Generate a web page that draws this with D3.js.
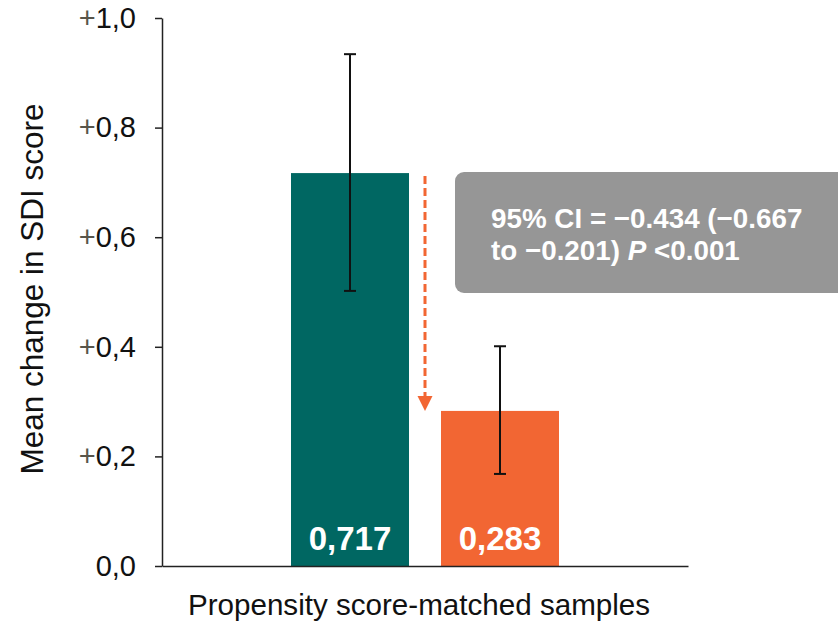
<!DOCTYPE html>
<html>
<head>
<meta charset="utf-8">
<script src="https://cdn.jsdelivr.net/npm/d3@7"></script>
<style>
  html, body { margin: 0; padding: 0; background: #fff; }
  svg { display: block; font-family: "Liberation Sans", Arial, sans-serif; }
</style>
</head>
<body>
<svg id="chart" width="838" height="622"></svg>
<script>
// Mean change in SDI score, propensity score-matched samples
const groups = ["Propensity score-matched samples"];
const series = ["Group A", "Group B"];
const means = [0.717, 0.283];
const ciLower = [0.502, 0.168];
const ciUpper = [0.934, 0.401];
const valueLabels = ["0,717", "0,283"];
const barColors = ["#006762", "#F26633"];
const yTicks = [0, 0.2, 0.4, 0.6, 0.8, 1.0];
const yTickLabels = ["0,0", "0,2", "0,4", "0,6", "0,8", "1,0"];
const yTitle = "Mean change in SDI score";
const annotationLines = [
  [{ t: "95% CI = \u22120.434 (\u22120.667", i: false }],
  [{ t: "to \u22120.201) ", i: false }, { t: "P", i: true }, { t: " <0.001", i: false }]
];

const svg = d3.select("#chart");
const plot = { left: 162, right: 688, top: 18, bottom: 566 };

const y = d3.scaleLinear().domain([0, 1]).range([plot.bottom, plot.top]);
const x0 = d3.scaleBand().domain(groups).range([plot.left, plot.right]);
const x1 = d3.scaleBand().domain(series).range([0, x0.bandwidth()])
  .paddingInner(0.2133).paddingOuter(0.86);

const barX = i => x0(groups[0]) + x1(series[i]);
const barMid = i => barX(i) + x1.bandwidth() / 2;

// Bars
svg.append("g").selectAll("rect")
  .data(means)
  .join("rect")
  .attr("x", (d, i) => barX(i))
  .attr("y", d => y(d))
  .attr("width", x1.bandwidth())
  .attr("height", d => y(0) - y(d))
  .attr("fill", (d, i) => barColors[i]);

// Value labels inside bars
svg.append("g").selectAll("text")
  .data(means)
  .join("text")
  .attr("x", (d, i) => barMid(i))
  .attr("y", y(0) - 16)
  .attr("text-anchor", "middle")
  .attr("fill", "#fff")
  .attr("font-weight", "bold")
  .attr("font-size", 33)
  .text((d, i) => valueLabels[i]);

// Error bars
const eb = svg.append("g").attr("stroke", "#111").attr("stroke-width", 2);
means.forEach((m, i) => {
  const cx = barMid(i);
  eb.append("line").attr("x1", cx).attr("x2", cx).attr("y1", y(ciLower[i])).attr("y2", y(ciUpper[i]));
  eb.append("line").attr("x1", cx - 6).attr("x2", cx + 6).attr("y1", y(ciLower[i])).attr("y2", y(ciLower[i]));
  eb.append("line").attr("x1", cx - 6).attr("x2", cx + 6).attr("y1", y(ciUpper[i])).attr("y2", y(ciUpper[i]));
});

// Dashed arrow showing the drop between the two means
const arrowX = (barX(0) + x1.bandwidth() + barX(1)) / 2;
const arrowColor = "#F26633";
const tipY = y(means[1]);
svg.append("line")
  .attr("x1", arrowX).attr("x2", arrowX)
  .attr("y1", y(means[0]) + 3).attr("y2", tipY - 14)
  .attr("stroke", arrowColor).attr("stroke-width", 3)
  .attr("stroke-dasharray", "8,4");
svg.append("path")
  .attr("d", `M${arrowX - 7.5},${tipY - 15} L${arrowX + 7.5},${tipY - 15} L${arrowX},${tipY} Z`)
  .attr("fill", arrowColor);

// Annotation box
svg.append("rect")
  .attr("x", 455).attr("y", 172)
  .attr("width", 400).attr("height", 121)
  .attr("rx", 9).attr("ry", 9)
  .attr("fill", "#969696");
const ann = svg.append("text")
  .attr("fill", "#fff")
  .attr("font-weight", "bold")
  .attr("font-size", 27.8);
annotationLines.forEach((line, li) => {
  line.forEach((seg, si) => {
    const ts = ann.append("tspan").text(seg.t);
    if (si === 0) ts.attr("x", 491).attr("y", 228 + li * 32);
    if (seg.i) ts.attr("font-style", "italic");
  });
});

// Y axis
const yAxis = d3.axisLeft(y)
  .tickValues(yTicks)
  .tickSize(7)
  .tickSizeOuter(0)
  .tickPadding(19)
  .tickFormat(() => "");
const yg = svg.append("g")
  .attr("transform", `translate(${plot.left},0)`)
  .call(yAxis);
yg.select(".domain").attr("stroke", "#222").attr("stroke-width", 1.5);
yg.selectAll(".tick line").attr("stroke", "#222").attr("stroke-width", 1.5);
yg.selectAll(".tick text")
  .attr("font-size", 29)
  .attr("fill", "#111")
  .attr("font-family", "'Liberation Sans', Arial, sans-serif")
  .each(function (d, i) {
    const t = d3.select(this);
    if (d > 0) t.append("tspan").attr("fill", "#58554a").text("+");
    t.append("tspan").text(yTickLabels[i]);
  });

// X axis baseline
const xAxis = d3.axisBottom(x0).tickSize(0).tickSizeOuter(0).tickFormat(() => "");
const xg = svg.append("g")
  .attr("transform", `translate(0,${plot.bottom})`)
  .call(xAxis);
xg.select(".domain").attr("stroke", "#222").attr("stroke-width", 1.5);

// Axis titles
svg.append("text")
  .attr("x", 419).attr("y", 615)
  .attr("text-anchor", "middle")
  .attr("font-size", 29.6)
  .attr("fill", "#111")
  .text(groups[0]);
svg.append("text")
  .attr("transform", `translate(43,${(103 + 475) / 2}) rotate(-90)`)
  .attr("text-anchor", "middle")
  .attr("font-size", 31.5)
  .attr("fill", "#111")
  .text(yTitle);
</script>
</body>
</html>
